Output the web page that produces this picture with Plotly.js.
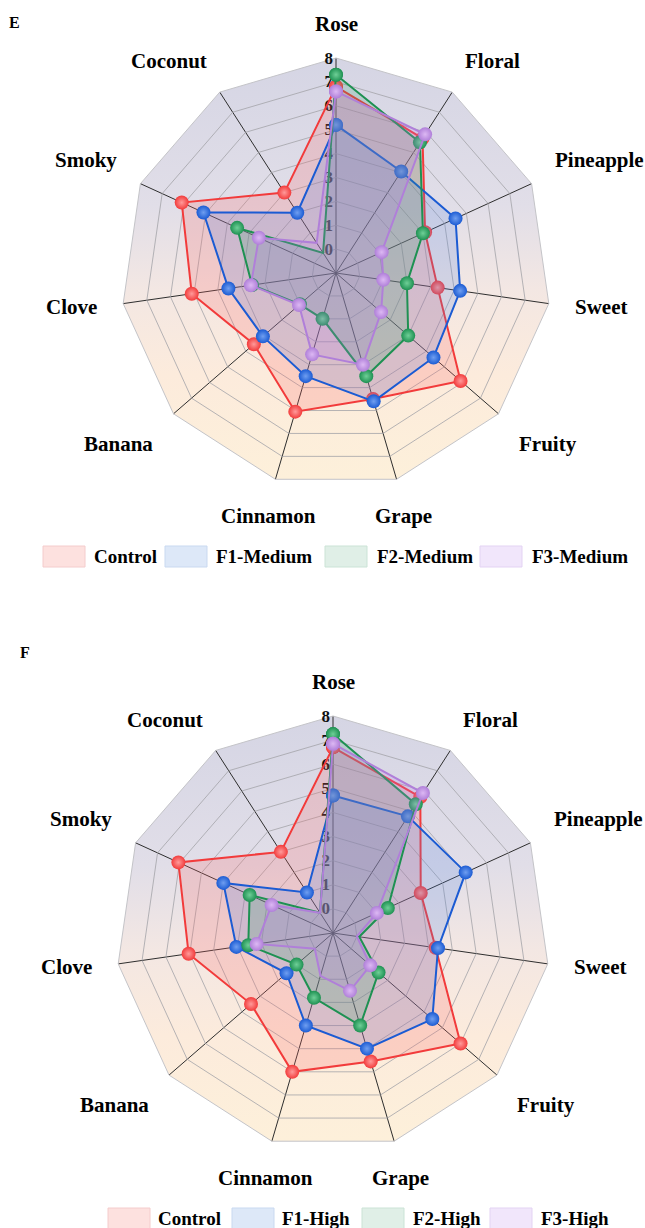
<!DOCTYPE html>
<html>
<head>
<meta charset="utf-8">
<script src="https://cdn.plot.ly/plotly-3.0.1.min.js"></script>
<style>
  html, body { margin: 0; padding: 0; background: #fff; }
  #chart { width: 645px; height: 1228px; }
</style>
</head>
<body>
<div id="chart"></div>
<script>
// Aroma attributes, clockwise from the top
const categories = ['Rose', 'Floral', 'Pineapple', 'Sweet', 'Fruity', 'Grape',
                    'Cinnamon', 'Banana', 'Clove', 'Smoky', 'Coconut'];

// Panel E – medium dosage
const groupsE = ['Control', 'F1-Medium', 'F2-Medium', 'F3-Medium'];
const controlE = [6.8, 5.7, 3.1, 3.3, 5.9, 4.5, 5.05, 3.55, 5.1, 6.1, 3.0];
const f1MediumE = [5.2, 4.05, 4.5, 4.25, 4.4, 4.6, 3.5, 3.05, 3.55, 5.1, 2.0];
const f2MediumE = [7.3, 5.5, 3.0, 2.0, 3.0, 3.5, 1.0, 1.0, 2.55, 3.55, 0.0];
const f3MediumE = [6.6, 5.9, 1.1, 1.0, 1.5, 3.0, 2.55, 1.05, 2.6, 2.55, 0.5];

// Panel F – high dosage
const groupsF = ['Control', 'F1-High', 'F2-High', 'F3-High'];
const controlF = [6.7, 5.7, 3.0, 3.3, 6.0, 4.55, 5.0, 3.5, 5.05, 6.05, 3.0];
const f1HighF = [4.7, 4.75, 5.05, 3.4, 4.45, 4.0, 3.0, 1.55, 3.05, 4.0, 1.0];
const f2HighF = [7.25, 5.35, 1.5, 0.1, 1.5, 3.0, 1.8, 1.0, 2.55, 2.8, 0.0];
const f3HighF = [6.85, 5.9, 1.0, 0.0, 1.05, 1.5, 0.85, 0.0, 2.2, 1.8, 0.0];

// Radial scale
const radialTicks = [0, 1, 2, 3, 4, 5, 6, 7, 8];
const radialTickText = ['0', '1', '2', '3', '4', '5', '6', '7', '8'];
const radialRange = [-1, 8];

// Styling
const W = 645, H = 1228;
const SERIF = 'Liberation Serif, Times New Roman, serif';
const lineColors = ['#f23b3b', '#1b5bd3', '#1e9152', '#b07fd9'];
const markerCores = ['#ff9a9a', '#6f9ef0', '#6fcf97', '#dcb8f3'];
const fillColors = ['rgba(250,105,105,0.22)', 'rgba(80,130,225,0.20)',
                    'rgba(50,160,105,0.20)', 'rgba(185,120,235,0.20)'];
const swatchFill = ['#fde1df', '#dde8f8', '#e0efe7', '#f1e6fb'];
const swatchLine = ['#f4cccc', '#c9d9f0', '#cbe3d6', '#e3d3f3'];

// Pixel geometry of the two panels (centre x, centre y, outer radius)
const panels = [
  { key: 'polar',  cx: 336, cy: 273, R: 215, names: groupsE,
    series: [controlE, f1MediumE, f2MediumE, f3MediumE], letter: 'E', lx: 14, ly: 22,
    legendY: 556, swatchX: [43, 165, 325, 480], textX: [92, 214, 375, 530] },
  { key: 'polar2', cx: 333, cy: 933, R: 217, names: groupsF,
    series: [controlF, f1HighF, f2HighF, f3HighF], letter: 'F', lx: 25, ly: 652,
    legendY: 1218, swatchX: [108, 232, 362, 490], textX: [156, 280, 411, 539] }
];

const px2x = p => p / W;
const px2y = p => 1 - p / H;

// Vertical-gradient 11-gon used as the panel background
function gradientPolygon(n) {
  const pts = [];
  for (let k = 0; k < n; k++) {
    const a = 2 * Math.PI * k / n;
    pts.push((Math.sin(a)).toFixed(5) + ',' + (-Math.cos(a)).toFixed(5));
  }
  const svg =
    "<svg xmlns='http://www.w3.org/2000/svg' viewBox='-1 -1 2 2' width='600' height='600' preserveAspectRatio='none'>" +
    "<defs><linearGradient id='bg' x1='0' y1='0' x2='0' y2='1'>" +
    "<stop offset='0' stop-color='#d5d5e4'/>" +
    "<stop offset='0.35' stop-color='#e1dee8'/>" +
    "<stop offset='0.55' stop-color='#f3e7e3'/>" +
    "<stop offset='0.75' stop-color='#fcebdc'/>" +
    "<stop offset='1' stop-color='#fdf0da'/>" +
    "</linearGradient></defs>" +
    "<polygon points='" + pts.join(' ') + "' fill='url(#bg)'/></svg>";
  return 'data:image/svg+xml;charset=utf-8,' + encodeURIComponent(svg);
}

const traces = [];
const layout = {
  width: W, height: H,
  margin: { l: 0, r: 0, t: 0, b: 0 },
  paper_bgcolor: '#ffffff',
  showlegend: false,
  images: [], shapes: [], annotations: []
};

const closed = arr => arr.concat([arr[0]]);
const thetaClosed = closed(categories);

panels.forEach((p, pi) => {
  const x0 = px2x(p.cx - p.R), x1 = px2x(p.cx + p.R);
  const y0 = px2y(p.cy + p.R), y1 = px2y(p.cy - p.R);

  layout[p.key] = {
    domain: { x: [x0, x1], y: [y0, y1] },
    bgcolor: 'rgba(0,0,0,0)',
    gridshape: 'linear',
    radialaxis: {
      range: radialRange,
      tickvals: radialTicks, ticktext: radialTickText,
      angle: 90, side: 'counterclockwise', tickangle: 90,
      showline: false, ticks: '',
      gridcolor: '#a3a3a8', gridwidth: 0.8,
      tickfont: { family: SERIF, size: 17, color: '#111', weight: 'bold' },
      layer: 'below traces'
    },
    angularaxis: {
      type: 'category', categoryarray: categories,
      direction: 'clockwise', rotation: 90,
      showline: true, linecolor: '#c4c4c8', linewidth: 1,
      gridcolor: '#2e2e2e', gridwidth: 1,
      ticks: '', showticklabels: false,
      layer: 'below traces'
    }
  };

  layout.images.push({
    source: gradientPolygon(categories.length),
    xref: 'paper', yref: 'paper', x: x0, y: y1,
    sizex: x1 - x0, sizey: y1 - y0,
    xanchor: 'left', yanchor: 'top', sizing: 'stretch', layer: 'below'
  });

  // Category labels set just outside each outer vertex
  const n = categories.length;
  categories.forEach((cat, k) => {
    const a = 2 * Math.PI * k / n;
    const dx = Math.sin(a), dy = -Math.cos(a);
    const gap = dy < -0.6 ? 20 : 24;
    const px = p.cx + (p.R + gap) * dx, py = p.cy + (p.R + gap) * dy;
    layout.annotations.push({
      text: '<b>' + cat + '</b>', xref: 'paper', yref: 'paper',
      x: px2x(px), y: px2y(py),
      xanchor: Math.abs(dx) < 0.35 ? 'center' : (dx > 0 ? 'left' : 'right'),
      yanchor: dy < -0.35 ? 'bottom' : (dy > 0.6 ? 'top' : 'middle'),
      showarrow: false, font: { family: SERIF, size: 21, color: '#000' }
    });
  });

  p.series.forEach((vals, si) => {
    traces.push({
      type: 'scatterpolar',
      subplot: p.key,
      name: p.names[si],
      r: closed(vals),
      theta: thetaClosed,
      mode: 'lines+markers',
      fill: 'toself',
      fillcolor: fillColors[si],
      line: { color: lineColors[si], width: 2 },
      marker: {
        size: 14, color: lineColors[si],
        gradient: { type: 'radial', color: markerCores[si] },
        line: { width: 0 }
      },
      cliponaxis: false,
      hoverinfo: 'r+theta+name'
    });
  });

  // Panel letter
  layout.annotations.push({
    text: '<b>' + p.letter + '</b>', xref: 'paper', yref: 'paper',
    x: px2x(p.lx), y: px2y(p.ly), xanchor: 'center', yanchor: 'middle',
    showarrow: false, font: { family: SERIF, size: 16, color: '#000' }
  });

  // Legend row: light swatch + bold label
  p.names.forEach((nm, si) => {
    layout.shapes.push({
      type: 'rect', xref: 'paper', yref: 'paper',
      x0: px2x(p.swatchX[si]), x1: px2x(p.swatchX[si] + 42),
      y0: px2y(p.legendY + 11), y1: px2y(p.legendY - 10),
      fillcolor: swatchFill[si], line: { color: swatchLine[si], width: 1 }
    });
    layout.annotations.push({
      text: '<b>' + nm + '</b>', xref: 'paper', yref: 'paper',
      x: px2x(p.textX[si]), y: px2y(p.legendY), xanchor: 'left', yanchor: 'middle',
      showarrow: false, font: { family: SERIF, size: 19, color: '#000' }
    });
  });
});

Plotly.newPlot('chart', traces, layout, { displayModeBar: false, staticPlot: true });
</script>
</body>
</html>
